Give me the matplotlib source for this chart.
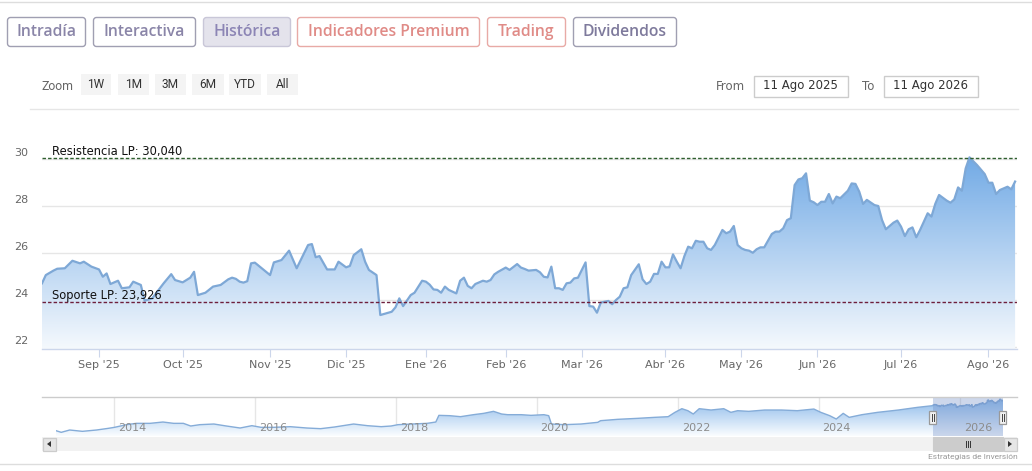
import numpy as np
import pandas as pd
import matplotlib
matplotlib.use("Agg")
import matplotlib.pyplot as plt
import matplotlib.dates as mdates
from matplotlib.patches import FancyBboxPatch, Rectangle, Polygon
from matplotlib.colors import to_rgb
from matplotlib.transforms import blended_transform_factory

plt.rcParams['font.family'] = ['DejaVu Sans']

W, H = 1032, 471

# ---------------- data ----------------
tabs = ["Intradía", "Interactiva", "Histórica", "Indicadores Premium", "Trading", "Dividendos"]
zoom_buttons = ["1W", "1M", "3M", "6M", "YTD", "All"]
date_from = "11 Ago 2025"
date_to = "11 Ago 2026"
month_labels = ["Sep '25", "Oct '25", "Nov '25", "Dic '25", "Ene '26", "Feb '26",
                "Mar '26", "Abr '26", "May '26", "Jun '26", "Jul '26", "Ago '26"]
y_ticks = [22, 24, 26, 28, 30]
resistance = 30.040
support = 23.926
resistance_label = "Resistencia LP: 30,040"
support_label = "Soporte LP: 23,926"
market_holidays = ["2025-12-25", "2025-12-26", "2026-01-01", "2026-04-03", "2026-04-06", "2026-05-01"]

# trading-day number (from 11 Ago 2025) and closing price
main_day = [0, 1, 3, 4, 6, 8, 10, 11, 13, 15, 16, 17, 18, 20, 21, 23, 24, 26, 27, 29,
            32, 34, 35, 37, 39, 40, 41, 43, 45, 47, 49, 50, 51, 52, 53, 54, 55, 56, 60, 61,
            63, 65, 67, 70, 71, 72, 73, 75, 77, 78, 80, 81, 82, 84, 85, 86, 88, 89, 92, 93,
            94, 95, 97, 98, 100, 101, 102, 103, 104, 105, 106, 107, 109, 110, 111, 112, 113, 114, 116, 117,
            118, 119, 120, 122, 123, 125, 126, 127, 128, 130, 131, 132, 133, 134, 135, 136, 137, 138, 139, 140,
            141, 142, 143, 144, 145, 146, 147, 149, 150, 151, 152, 153, 154, 155, 157, 158, 159, 160, 161, 162,
            163, 164, 165, 166, 167, 168, 169, 170, 171, 172, 173, 174, 175, 176, 177, 179, 180, 181, 182, 183,
            184, 185, 186, 187, 188, 189, 190, 192, 193, 194, 195, 196, 197, 198, 199, 200, 201, 202, 203, 204,
            205, 206, 207, 208, 209, 210, 212, 213, 214, 215, 216, 217, 219, 220, 221, 222, 224, 225, 226, 227,
            228, 229, 230, 231, 233, 234, 235, 236, 238, 239, 240, 241, 242, 243, 244, 246, 248, 249, 250, 251,
            252, 254, 255, 256]
main_price = [24.71, 25.06, 25.25, 25.33, 25.35, 25.67, 25.56, 25.63, 25.42, 25.30, 24.99, 25.13, 24.68, 24.82, 24.50, 24.54, 24.78, 24.64, 23.97, 24.07,
              24.71, 25.10, 24.85, 24.75, 24.95, 25.20, 24.21, 24.31, 24.57, 24.64, 24.88, 24.95, 24.90, 24.78, 24.74, 24.80, 25.56, 25.59, 25.06, 25.60,
              25.70, 26.10, 25.35, 26.34, 26.38, 25.82, 25.87, 25.30, 25.30, 25.63, 25.39, 25.45, 25.91, 26.16, 25.63, 25.28, 25.06, 23.36, 23.50, 23.69,
              24.07, 23.74, 24.21, 24.31, 24.82, 24.78, 24.65, 24.45, 24.43, 24.31, 24.57, 24.43, 24.28, 24.82, 24.95, 24.60, 24.50, 24.68, 24.82, 24.78,
              24.85, 25.09, 25.20, 25.38, 25.28, 25.53, 25.38, 25.32, 25.25, 25.28, 25.18, 24.99, 24.96, 25.42, 24.50, 24.50, 24.43, 24.71, 24.74, 24.92,
              24.95, 25.28, 25.60, 23.74, 23.72, 23.46, 23.89, 23.96, 23.82, 24.00, 24.14, 24.50, 24.54, 25.06, 25.52, 24.88, 24.68, 24.78, 25.11, 25.11,
              25.63, 25.39, 25.39, 25.94, 25.63, 25.35, 25.87, 26.27, 26.20, 26.52, 26.48, 26.48, 26.20, 26.13, 26.34, 26.98, 26.84, 26.91, 27.15, 26.34,
              26.20, 26.13, 26.10, 26.01, 26.16, 26.24, 26.24, 26.81, 26.91, 26.91, 27.05, 27.40, 27.48, 28.89, 29.13, 29.18, 29.39, 28.23, 28.16, 28.04,
              28.18, 28.18, 28.51, 28.11, 28.40, 28.33, 28.65, 28.96, 28.94, 28.61, 28.09, 28.26, 28.04, 28.00, 27.40, 27.01, 27.29, 27.38, 27.12, 26.72,
              27.01, 27.09, 26.67, 26.98, 27.69, 27.55, 28.09, 28.47, 28.23, 28.14, 28.28, 28.79, 28.65, 29.60, 30.07, 29.74, 29.36, 28.99, 28.99, 28.51,
              28.68, 28.82, 28.71, 29.04]

# long history shown in the navigator
nav_dates = ["2013-03-05", "2013-04-01", "2013-05-15", "2013-07-20", "2013-10-01", "2013-12-01",
             "2014-01-02", "2014-03-05", "2014-04-25", "2014-07-05", "2014-09-10", "2014-11-05", "2014-12-25",
             "2015-02-01", "2015-03-20", "2015-06-01", "2015-08-05", "2015-10-15", "2015-12-15",
             "2016-02-01", "2016-04-05", "2016-07-01", "2016-09-25", "2016-12-05",
             "2017-02-15", "2017-05-25", "2017-08-05", "2017-10-15", "2017-12-05",
             "2018-01-10", "2018-04-01", "2018-06-10", "2018-07-25", "2018-08-10", "2018-10-05", "2018-11-30",
             "2019-02-05", "2019-03-30", "2019-05-20", "2019-07-01", "2019-08-01", "2019-10-10", "2019-11-30",
             "2020-02-05", "2020-03-01", "2020-03-15", "2020-05-20", "2020-08-15", "2020-11-10", "2020-11-25",
             "2021-02-20", "2021-06-05", "2021-09-01", "2021-11-10", "2021-12-15",
             "2022-01-20", "2022-02-20", "2022-03-20", "2022-04-20", "2022-06-20", "2022-08-25", "2022-10-01", "2022-11-05",
             "2023-01-01", "2023-03-25", "2023-06-20", "2023-09-10", "2023-12-05",
             "2024-01-10", "2024-02-25", "2024-03-30", "2024-05-05", "2024-06-05", "2024-08-10", "2024-10-30",
             "2025-02-15", "2025-05-25", "2025-08-08"]
nav_price = [4.56, 3.22, 5.10, 4.03, 5.10, 6.44,
             7.25, 9.40, 10.47, 10.47, 11.54, 10.47, 10.47,
             8.32, 9.40, 9.93, 8.32, 6.71, 8.59,
             7.25, 7.25, 7.78, 6.71, 6.17,
             7.52, 9.93, 8.59, 7.78, 8.32,
             9.40, 9.93, 10.47, 11.54, 16.91, 16.65, 15.84,
             17.45, 18.52, 20.14, 17.99, 17.45, 17.45, 16.91,
             17.45, 16.65, 9.93, 9.40, 9.93, 11.28, 12.62,
             13.69, 14.50, 15.30, 15.84, 19.33,
             22.28, 20.67, 17.99, 22.28, 21.21, 22.28, 19.33, 20.67,
             20.14, 21.21, 21.21, 20.67, 22.00,
             19.33, 16.65, 13.96, 18.52, 15.30, 17.45, 19.33,
             21.21, 23.36, 24.60]
nav_years = [2014, 2016, 2018, 2020, 2022, 2024, 2026]

assert len(main_day) == len(main_price)
assert len(nav_dates) == len(nav_price)

# trading calendar (used for ticks / navigator dates)
days = pd.bdate_range("2025-08-11", "2026-08-11")
days = days[~days.isin(pd.to_datetime(market_holidays))]
mkey = days.year * 12 + days.month
tick_idx = [i for i in range(1, len(days)) if mkey[i] != mkey[i - 1]]

# ---------------- figure ----------------
fig = plt.figure(figsize=(W / 100, H / 100), dpi=100)
bg = fig.add_axes([0, 0, 1, 1], zorder=0)
bg.set_xlim(0, W)
bg.set_ylim(H, 0)
bg.axis('off')

# separators
bg.plot([0, W], [2, 2], color='#dddddd', lw=1)
bg.plot([30, 1018], [108.5, 108.5], color='#e6e6e6', lw=1)
bg.plot([0, W], [463.5, 463.5], color='#dddddd', lw=1)

# tab buttons
tab_x = [(7, 85), (93, 195), (203, 290), (297, 479), (487, 565), (573, 676)]
tab_fc = ['white', 'white', '#e4e3ec', 'white', 'white', 'white']
tab_ec = ['#a09fb2', '#a09fb2', '#c9c7d8', '#e8aaa6', '#e8aaa6', '#a09fb2']
tab_tc = ['#8a85a8', '#8a85a8', '#8c85b5', '#e08b87', '#e08b87', '#7e7a9c']
for (x0, x1), label, fc, ec, tc in zip(tab_x, tabs, tab_fc, tab_ec, tab_tc):
    bg.add_patch(FancyBboxPatch((x0 + 0.5, 17.5), x1 - x0, 29,
                                boxstyle="round,pad=0,rounding_size=3",
                                fc=fc, ec=ec, lw=1))
    bg.text((x0 + x1) / 2 + 0.5, 32.5, label, ha='center', va='center',
            fontsize=11.3, color=tc, family=['Open Sans', 'DejaVu Sans'], fontweight=600)

# zoom selector
bg.text(41, 86, "Zoom", ha='left', va='center', fontsize=8.8, color='#666666',
        family=['Roboto', 'DejaVu Sans'])
zoom_x = [(81, 111), (118, 149), (155, 186), (192, 224), (229, 261), (267, 298)]
for (x0, x1), label in zip(zoom_x, zoom_buttons):
    bg.add_patch(Rectangle((x0, 74), x1 - x0, 21, fc='#f4f4f4', ec='none'))
    bg.text((x0 + x1) / 2, 85, label, ha='center', va='center', fontsize=8.6,
            color='#333333', family=['Roboto', 'DejaVu Sans'])

# date inputs
bg.text(745, 86, "From", ha='right', va='center', fontsize=8.5, color='#666666')
bg.add_patch(Rectangle((753.5, 75.5), 94, 21, fc='white', ec='#cccccc', lw=1))
bg.text(800.5, 86, date_from, ha='center', va='center', fontsize=8.5, color='#333333')
bg.text(874, 86, "To", ha='right', va='center', fontsize=8.5, color='#666666')
bg.add_patch(Rectangle((883.5, 75.5), 94, 21, fc='white', ec='#cccccc', lw=1))
bg.text(930.5, 86, date_to, ha='center', va='center', fontsize=8.5, color='#333333')

# ---------------- main chart ----------------
ybot = 21.915
ytop = 22 + (347 - 150) / 23.5
ax = fig.add_axes([42 / W, 1 - 349 / H, 975 / W, (349 - 150) / H], zorder=2)
ax.patch.set_alpha(0)

x = np.array(main_day, dtype=float)
y = np.array(main_price, dtype=float)

for v in y_ticks:
    ax.axhline(v, color='#e6e6e6', lw=1, zorder=0.5)

t = np.linspace(0, 1, 256)[:, None, None]
c_top = np.array(to_rgb('#70a9e5'))
c_bot = np.array(to_rgb('#f5f9fd'))
img = c_top * (1 - t) + c_bot * t
im = ax.imshow(img, extent=[x.min(), x.max(), ybot, 30.2], aspect='auto',
               origin='upper', zorder=1, interpolation='bilinear')
poly = Polygon(np.column_stack([np.r_[x[0], x, x[-1]], np.r_[ybot, y, ybot]]),
               closed=True, fc='none', ec='none', transform=ax.transData)
ax.add_patch(poly)
im.set_clip_path(poly)
ax.plot(x, y, color='#7ea8d6', lw=1.6, zorder=4, solid_joinstyle='round')

ax.axhline(resistance, color='#2f5f2f', lw=1, ls=(0, (2.5, 1.5)), zorder=5)
ax.axhline(support, color='#6e1f3c', lw=1, ls=(0, (2.5, 1.5)), zorder=5)
ax.text(2.6, resistance + 0.15, resistance_label, ha='left', va='baseline',
        fontsize=8.3, color='#111111', zorder=6, clip_on=False)
ax.text(2.6, support + 0.11, support_label, ha='left', va='baseline',
        fontsize=8.3, color='#111111', zorder=6, clip_on=False)

ax.set_xlim(0, 256.5)
ax.set_ylim(ybot, ytop)
ax.set_yticks([])
trans = blended_transform_factory(ax.transAxes, ax.transData)
for v in y_ticks:
    ax.text(-14 / 975, v + 0.26, str(v), transform=trans, ha='right', va='center',
            fontsize=8, color='#666666')
ax.set_xticks(tick_idx, month_labels)
ax.tick_params(axis='x', length=5.5, width=0.8, color='#ccd6eb', labelsize=8,
               labelcolor='#666666', pad=2.5)
for side in ['top', 'left', 'right']:
    ax.spines[side].set_visible(False)
ax.spines['bottom'].set_color('#ccd6eb')
ax.spines['bottom'].set_linewidth(1)

# ---------------- navigator ----------------
nav = fig.add_axes([56 / W, 1 - 436 / H, 947 / W, 39.5 / H], zorder=2)
nav.patch.set_alpha(0)
nx = np.r_[mdates.date2num(pd.to_datetime(nav_dates)),
           mdates.date2num(days[np.clip(main_day, 0, len(days) - 1)])]
ny = np.r_[np.array(nav_price), y]
nbot, ntop = 0.27, 32.1
for yr in nav_years:
    nav.axvline(mdates.date2num(pd.Timestamp(f"{yr}-01-01")), color='#e6e6e6', lw=1, zorder=0.5)
nt = np.linspace(0, 1, 128)[:, None, None]
nimg = np.array(to_rgb('#8ab9ea')) * (1 - nt) + np.array(to_rgb('#fbfdff')) * nt
nim = nav.imshow(nimg, extent=[nx.min(), nx.max(), nbot, 30.2], aspect='auto',
                 origin='upper', zorder=1, interpolation='bilinear')
npoly = Polygon(np.column_stack([np.r_[nx[0], nx, nx[-1]], np.r_[nbot, ny, nbot]]),
                closed=True, fc='none', ec='none', transform=nav.transData)
nav.add_patch(npoly)
nim.set_clip_path(npoly)
nav.plot(nx, ny, color='#85acd8', lw=1, zorder=3)
sel0 = mdates.date2num(days[0])
sel1 = nx.max()
nav.axvspan(sel0, sel1, color=(102 / 255, 133 / 255, 194 / 255), alpha=0.32, lw=0, zorder=4)
nav.set_xlim(mdates.date2num(pd.Timestamp("2013-03-05")), nx.max())
nav.set_ylim(nbot, ntop)
nav.axis('off')
for yr in nav_years:
    px = mdates.date2num(pd.Timestamp(f"{yr}-01-01"))
    nav.annotate(str(yr), (px, 0), xycoords=('data', 'axes fraction'),
                 xytext=(2.5, 5.5), textcoords='offset points', ha='left', va='center',
                 fontsize=8, color='#8c8c8c', zorder=5)

# overlay: navigator outline, handles, scrollbar, credit
top = fig.add_axes([0, 0, 1, 1], zorder=5)
top.set_xlim(0, W)
top.set_ylim(H, 0)
top.axis('off')
top.patch.set_alpha(0)
top.plot([42, 1017], [396.5, 396.5], color='#cccccc', lw=1)

fig.canvas.draw()
hx = [nav.transData.transform((sel0, 0))[0], nav.transData.transform((sel1, 0))[0]]
for px in hx:
    top.add_patch(Rectangle((px - 3.5, 410.5), 7, 13, fc='#f2f2f2', ec='#999999', lw=0.9))
    top.plot([px - 1, px - 1], [413.5, 420.5], color='#444444', lw=0.7)
    top.plot([px + 1, px + 1], [413.5, 420.5], color='#444444', lw=0.7)

top.add_patch(Rectangle((42, 437), 975, 14, fc='#f2f2f2', ec='none'))
for bx in (42, 1003):
    top.add_patch(Rectangle((bx + 0.5, 437.5), 13.5, 13, fc='#e6e6e6', ec='#cccccc', lw=0.9))
top.add_patch(Polygon([[51, 441], [51, 447], [47, 444]], closed=True, fc='#333333', ec='none'))
top.add_patch(Polygon([[1008, 441], [1008, 447], [1012, 444]], closed=True, fc='#333333', ec='none'))
top.add_patch(Rectangle((hx[0], 437), hx[1] - hx[0], 14, fc='#cccccc', ec='#cccccc', lw=0.8))
mid = (hx[0] + hx[1]) / 2
for dx in (-2, 0, 2):
    top.plot([mid + dx, mid + dx], [441, 447], color='#333333', lw=0.7)

top.text(1018, 457, "Estrategias de Inversión", ha='right', va='center',
         fontsize=6, color='#999999', family=['Roboto', 'DejaVu Sans'])

fig.savefig("out.png", dpi=100)
